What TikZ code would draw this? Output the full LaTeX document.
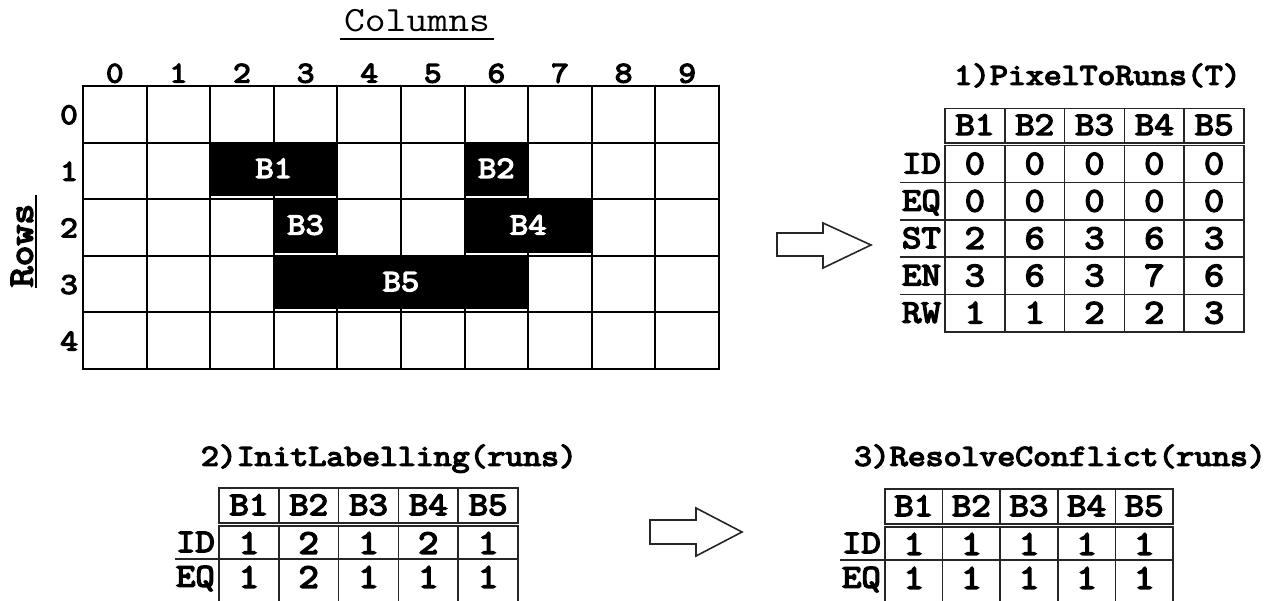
\documentclass[tikz,border=0pt]{standalone}
\usepackage{fontspec}
\newfontfamily\cour{Latin Modern Mono}[FakeStretch=1.14, AutoFakeBold=4.5]
\newcommand{\setfs}[1]{\fontsize{#1}{#1}\selectfont}
\begin{document}
\begin{tikzpicture}[x=1pt,y=-1pt,
  gridline/.style={line width=2pt, black},
  tline/.style={line width=1.6pt, black!85},
  digit/.style={font=\cour\bfseries\setfs{30}, inner sep=0pt, text height=18pt, text depth=0pt},
  blk/.style={fill=black, inner sep=0pt, text=white, font=\cour\bfseries\setfs{31}, text height=18pt, text depth=0pt},
  title/.style={font=\cour\bfseries\setfs{30.5}, inner sep=0pt, text height=17.5pt, text depth=0pt},
  hdr/.style={font=\cour\bfseries\setfs{33}, inner sep=0pt, text height=19pt, text depth=0pt},
  rlab/.style={font=\cour\bfseries\setfs{33}, inner sep=0pt, text height=19pt, text depth=0pt, anchor=east},
  val/.style={font=\cour\bfseries\setfs{34.5}, inner sep=0pt, text height=20.5pt, text depth=0pt},
  harrow/.style={line width=1.6pt, draw=black!85, fill=white, line join=miter}
]
\useasboundingbox (0,0) rectangle (1280,600);
\clip (0,0) rectangle (1280,600);

% ---------- pixel grid ----------
\node[font=\cour\setfs{35.5}, inner sep=0pt, text height=20pt, text depth=0pt] (coltitle) at (417,21) {Columns};
\draw[line width=1.6pt] (340,39) -- (494,39);
\node[font=\cour\bfseries\setfs{35.5}, inner sep=0pt, rotate=90] (rowtitle) at (22,245.5) {Rows};
\draw[line width=1.6pt] (36,195) -- (36,288);

\foreach \i in {0,...,10} \draw[gridline] ({83+63.6*\i},86) -- ({83+63.6*\i},369);
\foreach \j in {0,...,5} \draw[gridline] (82,{86+56.6*\j}) -- (720,{86+56.6*\j});

\foreach \i in {0,...,9} \node[digit] (c\i) at ({114.8+63.6*\i},73.5) {\i};
\foreach \j in {0,...,4} \node[digit] (r\j) at (69,{115+56.6*\j}) {\j};

\node[blk, minimum width=129.2pt, minimum height=54.6pt] (B1) at (273.8,168.9) {B1};
\node[blk, minimum width=65.6pt, minimum height=54.6pt] (B2) at (496.4,168.9) {B2};
\node[blk, minimum width=65.6pt, minimum height=54.6pt] (B3) at (305.6,225.5) {B3};
\node[blk, minimum width=129.2pt, minimum height=54.6pt] (B4) at (528.2,225.5) {B4};
\node[blk, minimum width=256.4pt, minimum height=54.6pt] (B5) at (401,282.1) {B5};

% ---------- arrows ----------
\draw[harrow] (777,233) -- (823,233) -- (823,223) -- (871,245) -- (823,268) -- (823,256) -- (777,256) -- cycle;
\draw[harrow] (650,520) -- (696,520) -- (696,508) -- (742,532) -- (696,556) -- (696,544) -- (650,544) -- cycle;

% ---------- table 1 ----------
\node[title] (ttl1) at (1097.5,76) {1)PixelToRuns(T)};
\draw[tline] (945,108.3) rectangle (1244,142.7);
\foreach \k in {1,...,4} \draw[tline] ({945+59.8*\k},108.3) -- ({945+59.8*\k},142.7);
\foreach \k in {1,...,5} \node[hdr] (ta\k) at ({945+59.8*(\k-0.5)},125.5) {B\k};
\draw[tline] (945,145.3) rectangle (1244,331.8);
\foreach \k in {1,...,4} \draw[tline] ({945+59.8*\k},145.3) -- ({945+59.8*\k},331.8);
\foreach \r in {1,...,4} \draw[tline] (900,{145.3+37.3*\r}) -- (1244,{145.3+37.3*\r});
\foreach \lab [count=\r] in {ID,EQ,ST,EN,RW} \node[rlab] (tal\r) at (941,{145.3+37.3*(\r-0.5)}) {\lab};
\foreach \row [count=\r] in {{0,0,0,0,0},{0,0,0,0,0},{2,6,3,6,3},{3,6,3,7,6},{1,1,2,2,3}}
  \foreach \v [count=\c] in \row
    \node[val] (tav\r\c) at ({945+59.8*(\c-0.5)},{145.3+37.3*(\r-0.5)}) {\v};

% ---------- table 2 ----------
\node[title] (ttl2) at (389,457) {2)InitLabelling(runs)};
\draw[tline] (219,488) rectangle (518,523);
\foreach \k in {1,...,4} \draw[tline] ({219+59.8*\k},488) -- ({219+59.8*\k},523);
\foreach \k in {1,...,5} \node[hdr] (tb\k) at ({219+59.8*(\k-0.5)},505.5) {B\k};
\draw[tline] (219,526) rectangle (518,606);
\foreach \k in {1,...,4} \draw[tline] ({219+59.8*\k},526) -- ({219+59.8*\k},606);
\draw[tline] (175,559) -- (518,559);
\node[rlab] (tbl1) at (215,542.5) {ID};
\node[rlab] (tbl2) at (215,577) {EQ};
\foreach \v [count=\c] in {1,2,1,2,1} \node[val] (tbv1\c) at ({219+59.8*(\c-0.5)},543.5) {\v};
\foreach \v [count=\c] in {1,2,1,1,1} \node[val] (tbv2\c) at ({219+59.8*(\c-0.5)},577.5) {\v};

% ---------- table 3 ----------
\node[title] (ttl3) at (1060,457) {3)ResolveConflict(runs)};
\draw[tline] (885,489) rectangle (1173,524);
\foreach \k in {1,...,4} \draw[tline] ({885+57.6*\k},489) -- ({885+57.6*\k},524);
\foreach \k in {1,...,5} \node[hdr] (tc\k) at ({885+57.6*(\k-0.5)},506.5) {B\k};
\draw[tline] (885,527) rectangle (1173,606);
\foreach \k in {1,...,4} \draw[tline] ({885+57.6*\k},527) -- ({885+57.6*\k},606);
\draw[tline] (840,560) -- (1173,560);
\node[rlab] (tcl1) at (881,543.5) {ID};
\node[rlab] (tcl2) at (881,578) {EQ};
\foreach \v [count=\c] in {1,1,1,1,1} \node[val] (tcv1\c) at ({885+57.6*(\c-0.5)},544.5) {\v};
\foreach \v [count=\c] in {1,1,1,1,1} \node[val] (tcv2\c) at ({885+57.6*(\c-0.5)},578.5) {\v};
\end{tikzpicture}
\end{document}
